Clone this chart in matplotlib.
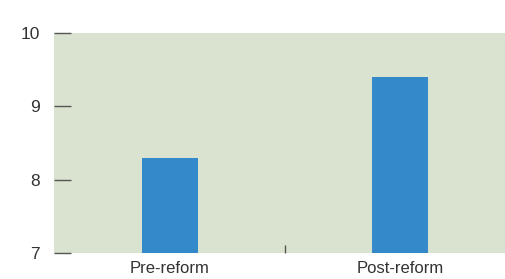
import matplotlib
matplotlib.use("Agg")
import matplotlib.pyplot as plt

categories = ["Pre-reform", "Post-reform"]
values = [8.3, 9.4]
yticks = [7, 8, 9, 10]

plt.rcParams["font.family"] = ["Liberation Sans", "DejaVu Sans"]

fig = plt.figure(figsize=(5.06, 2.79), dpi=100)
ax = fig.add_axes([54/506, 26/279, 452/506, 220/279])
ax.set_facecolor("#d9e3cf")
x = list(range(len(categories)))
ax.bar(x, values, width=0.243, color="#3389c9", bottom=0, zorder=2)
ax.set_ylim(7, 10)
ax.set_xlim(-0.504, 1.461)
ax.set_yticks(yticks)
ax.set_yticklabels([str(t) for t in yticks], fontsize=12.5, color="#333333")
ax.set_xticks(x)
ax.set_xticklabels(categories, fontsize=12, color="#333333")
ax.set_xticks([0.5], minor=True)
ax.tick_params(axis="x", which="major", length=0, pad=6)
ax.tick_params(axis="x", which="minor", direction="in", length=6, width=1, color="#555555")
ax.tick_params(axis="y", direction="in", length=12, width=1, color="#555555", pad=10)
for s in ax.spines.values():
    s.set_visible(False)
fig.savefig("out.png", dpi=100)
